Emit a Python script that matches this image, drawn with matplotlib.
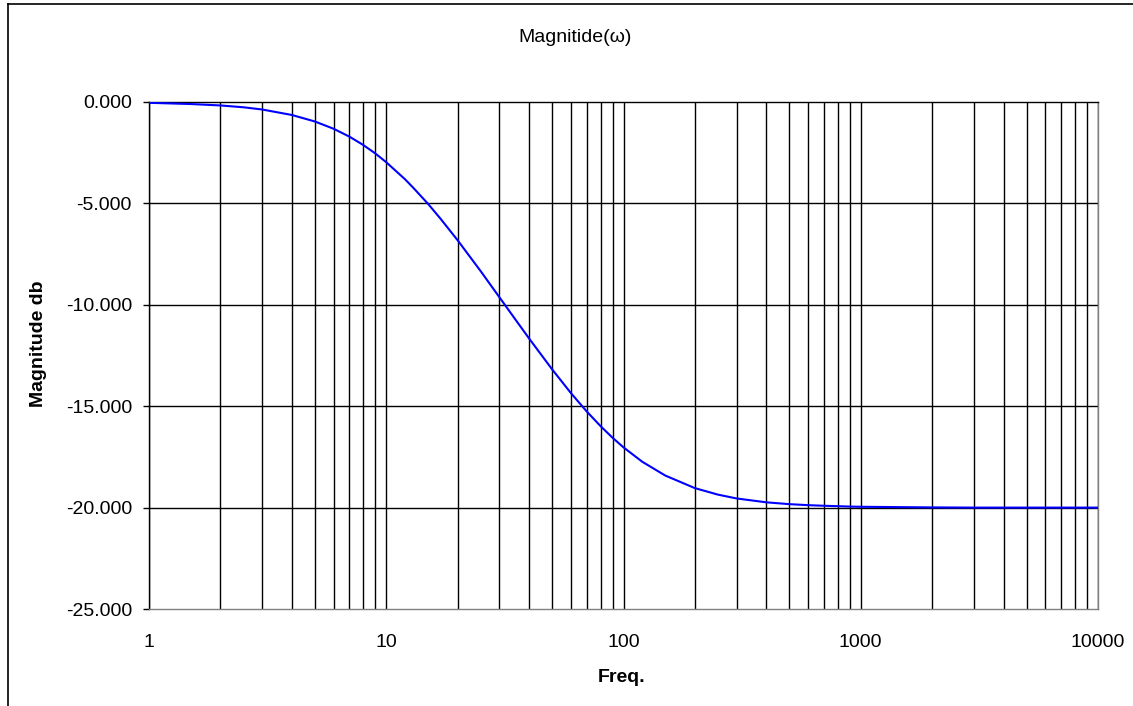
import matplotlib.pyplot as plt
from matplotlib.lines import Line2D
from matplotlib.ticker import FixedLocator, FormatStrFormatter, NullFormatter

plt.rcParams['font.family'] = ['Liberation Sans', 'DejaVu Sans']

# Data
freq = [1, 1.5, 2, 2.5, 3, 4, 5, 6, 7, 8, 9, 10, 12, 13, 15, 17, 20, 25, 30, 35,
        40, 50, 60, 70, 80, 90, 100, 120, 150, 200, 250, 300, 400, 500, 600, 700,
        800, 900, 1000, 2000, 3000, 5000, 10000]
mag_db = [-0.04, -0.10, -0.17, -0.26, -0.37, -0.64, -0.96, -1.32, -1.71, -2.12,
          -2.54, -2.97, -3.81, -4.23, -5.02, -5.78, -6.82, -8.34, -9.63, -10.72,
          -11.66, -13.18, -14.35, -15.26, -15.98, -16.56, -17.03, -17.74, -18.42,
          -19.04, -19.36, -19.55, -19.74, -19.83, -19.88, -19.91, -19.93, -19.95,
          -19.96, -19.99, -20.0, -20.0, -20.0]

y_ticks = [0, -5, -10, -15, -20, -25]
x_ticks = [1, 10, 100, 1000, 10000]

W, H = 1133, 706
fig = plt.figure(figsize=(W / 100, H / 100), dpi=100)
ax = fig.add_axes([149 / W, 1 - 609 / H, 949 / W, 507 / H])

# vertical grid at every 1..9 of each decade
grid_x = [m * 10 ** d for d in range(4) for m in range(1, 10)] + [10000]
for gx in grid_x:
    ax.axvline(gx, color='#000000', lw=1.0, zorder=1)
for gy in y_ticks[1:-1]:
    ax.axhline(gy, color='#000000', lw=1.0, zorder=1)

ax.plot(freq, mag_db, color='#0000FF', lw=1.5, zorder=3)

ax.set_xscale('log')
ax.set_xlim(1, 10000)
ax.set_ylim(-25, 0)
ax.xaxis.set_major_locator(FixedLocator(x_ticks))
ax.xaxis.set_minor_locator(FixedLocator([]))
ax.xaxis.set_minor_formatter(NullFormatter())
ax.set_xticklabels([str(t) for t in x_ticks])
ax.set_yticks(y_ticks)
ax.yaxis.set_major_formatter(FormatStrFormatter('%.3f'))
ax.tick_params(axis='x', length=0, pad=18, labelsize=14)
ax.tick_params(axis='y', length=4.3, width=1, pad=8, labelsize=14, direction='out')

ax.spines['top'].set_color('#000000')
ax.spines['left'].set_color('#000000')
ax.spines['right'].set_color('#808080')
ax.spines['bottom'].set_color('#808080')
for s in ax.spines.values():
    s.set_linewidth(1.0)

fig.text(575 / W, 1 - 38 / H, 'Magnitide(ω)', fontsize=14, ha='center', va='center')
fig.text(622 / W, 1 - 678 / H, 'Freq.', fontsize=14, fontweight='bold',
         ha='center', va='center')
fig.text(38.5 / W, 1 - 344 / H, 'Magnitude db', fontsize=14, fontweight='bold',
         rotation=90, ha='center', va='center')

# outer chart frame (left and top edges visible)
fig.add_artist(Line2D([8 / W, 8 / W], [0, 1 - 4 / H], color='black', lw=1.2))
fig.add_artist(Line2D([8 / W, 1], [1 - 4 / H, 1 - 4 / H], color='black', lw=1.2))

fig.savefig('out.png', dpi=100)
